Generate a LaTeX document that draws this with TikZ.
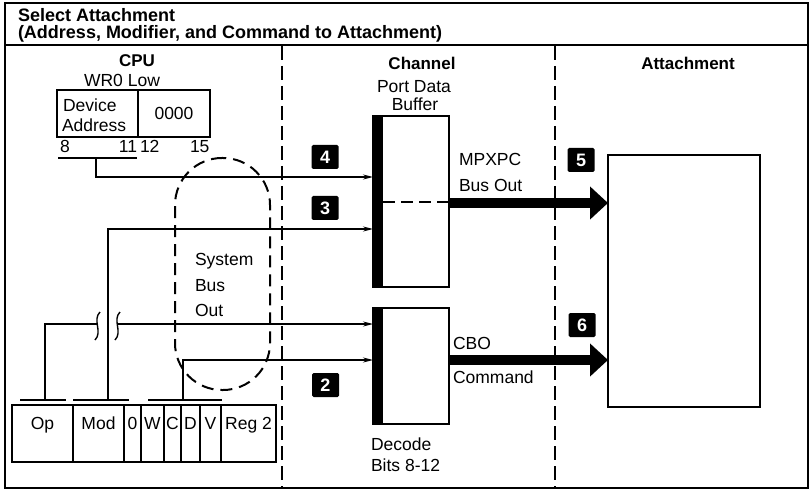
\documentclass[tikz,border=0pt]{standalone}
\usepackage{fontspec}
\setmainfont{Liberation Sans}
\usetikzlibrary{arrows.meta,calc}
\begin{document}
\begin{tikzpicture}[x=1pt,y=-1pt,
  lbl/.style={inner sep=0pt, outer sep=0pt, font=\fontsize{17.5}{20}\selectfont},
  hd/.style={inner sep=0pt, outer sep=0pt, font=\bfseries\fontsize{17}{20}\selectfont, anchor=base},
  ttl/.style={inner sep=0pt, outer sep=0pt, font=\bfseries\fontsize{18}{16.5}\selectfont, align=left, anchor=base west},
  badge/.style={fill=black, text=white, font=\bfseries\fontsize{18}{18}\selectfont, minimum width=27pt, minimum height=24pt, inner sep=0pt, rounded corners=1.5pt},
  box/.style={draw, line width=2pt, inner sep=0pt, outer sep=0pt},
  field/.style={draw, line width=1.3pt, inner sep=0pt, outer sep=0pt, minimum height=57pt, text height=12.5pt, text depth=20pt, font=\fontsize{17.5}{20}\selectfont},
  wire/.style={line width=1.4pt},
  arr/.style={wire, -{Stealth[length=10pt,width=5pt]}},
  bigarr/.style={line width=10pt, -{Triangle[length=18pt,width=32pt]}},
  divider/.style={line width=2.2pt, dash pattern=on 14pt off 6pt},
]
\useasboundingbox (0,0) rectangle (810,494);
\fill[white] (0,0) rectangle (810,494);

% frame and title
\draw[line width=2pt] (5,3) rectangle (808,488);
\draw[line width=2pt] (5,45) -- (808,45);
\node[ttl] (title) at (18,38.5) {Select Attachment\\(Address, Modifier, and Command to Attachment)};

% dividers
\coordinate (d1t) at (282,46); \coordinate (d1b) at (282,488);
\coordinate (d2t) at (555,46); \coordinate (d2b) at (555,488);
\draw[divider] (d1t) -- (d1b);
\draw[divider] (d2t) -- (d2b);

% headings
\node[hd] (hcpu) at (137,67) {CPU};
\node[hd] (hch) at (422,70) {Channel};
\node[hd] (hatt) at (688,70) {Attachment};

% WR0 low register
\node[lbl, anchor=base] (wrl) at (122,87) {WR0 Low};
\node[box, minimum width=153pt, minimum height=47pt] (wr0) at (133.5,113.5) {};
\draw[line width=1.5pt] (138,90) -- (138,137);
\node[lbl, anchor=base west] (dev) at (63,112) {Device};
\node[lbl, anchor=base west] (adr) at (62,132) {Address};
\node[lbl, anchor=base] (zero) at (174,120) {0000};
\node[lbl, anchor=base west] (b8) at (60,153) {8};
\node[lbl, anchor=base east] (b11) at (137,153) {11};
\node[lbl, anchor=base west] (b12) at (140,153) {12};
\node[lbl, anchor=base west] (b15) at (190,153) {15};
\draw[wire] (58,158) -- (137,158);
\coordinate (u4) at (96,158);

% system bus
\node[draw, line width=2pt, dash pattern=on 12pt off 7pt, rounded corners=47pt,
      minimum width=95pt, minimum height=232pt, inner sep=0pt] (sysbus) at (222.5,274) {};
\node[lbl, anchor=base west] (sb1) at (195,265) {System};
\node[lbl, anchor=base west] (sb2) at (195,291) {Bus};
\node[lbl, anchor=base west] (sb3) at (195,316) {Out};

% channel boxes
\node[box, minimum width=76pt, minimum height=171pt] (pdb) at (411,201.5) {};
\fill (pdb.north west) rectangle ($(pdb.south west)+(10,0)$);
\node[box, minimum width=76pt, minimum height=116pt] (dec) at (411,366) {};
\fill (dec.north west) rectangle ($(dec.south west)+(10,0)$);
\coordinate (mid) at (383,202);
\draw[wire, dash pattern=on 12pt off 6pt] (mid) -- (pdb.east |- mid);
\node[lbl, anchor=base] (pd1) at (414,93) {Port Data};
\node[lbl, anchor=base] (pd2) at (415,111) {Buffer};
\node[lbl, anchor=base west] (mp1) at (459,166) {MPXPC};
\node[lbl, anchor=base west] (mp2) at (459,192) {Bus Out};
\node[lbl, anchor=base west] (cb1) at (453,349) {CBO};
\node[lbl, anchor=base west] (cb2) at (453,383) {Command};
\node[lbl, anchor=base west] (dc1) at (371,450) {Decode};
\node[lbl, anchor=base west] (dc2) at (371,471) {Bits 8-12};

% attachment
\node[box, minimum width=152pt, minimum height=252pt] (att) at (684,281) {};

% instruction fields
\node[field, minimum width=61pt] (fop) at (42.5,433.5) {Op};
\node[field, minimum width=51pt] (fmod) at (98.5,433.5) {Mod};
\node[field, minimum width=17pt] (f0) at (132.5,433.5) {0};
\node[field, minimum width=23pt] (fw) at (152.5,433.5) {W};
\node[field, minimum width=17pt] (fc) at (172.5,433.5) {C};
\node[field, minimum width=19pt] (fd) at (190.5,433.5) {D};
\node[field, minimum width=21pt] (fv) at (210.5,433.5) {V};
\node[field, minimum width=55pt] (freg) at (248.5,433.5) {Reg 2};
\draw[line width=2.2pt] (fop.north west) rectangle (freg.south east);
\draw[wire] (20,400) -- (66,400);
\draw[wire] (73,400) -- (129,400);
\draw[wire] (148,400) -- (222,400);
\coordinate (uop) at (45,400);
\coordinate (umod) at (108,400);
\coordinate (ucd) at (183,400);

% wires
\coordinate (r4) at (0,177);
\coordinate (r3) at (0,229);
\coordinate (r1) at (0,324);
\coordinate (r2) at (0,360);
\coordinate (brk1) at (97,324);
\coordinate (brk2) at (118,324);
\draw[arr] (u4) |- (pdb.west |- r4);
\draw[arr] (umod) |- (pdb.west |- r3);
\draw[wire] (uop) |- (brk1);
\draw[arr] (brk2) -- (dec.west |- r1);
\draw[arr] (ucd) |- (dec.west |- r2);
\draw[wire] (100,312) .. controls (92,320) and (103,332) .. (95,340);
\draw[wire] (120,312) .. controls (112,320) and (123,332) .. (115,340);

% big arrows
\coordinate (m1) at (0,203);
\coordinate (m2) at (0,360);
\draw[bigarr] (pdb.east |- m1) -- (att.west |- m1);
\draw[bigarr] (dec.east |- m2) -- (att.west |- m2);

% badges
\node[badge] (n4) at (325,157) {4};
\node[badge] (n3) at (325,208) {3};
\node[badge] (n2) at (325.5,385) {2};
\node[badge] (n5) at (581,160) {5};
\node[badge] (n6) at (582,325) {6};
\end{tikzpicture}
\end{document}
